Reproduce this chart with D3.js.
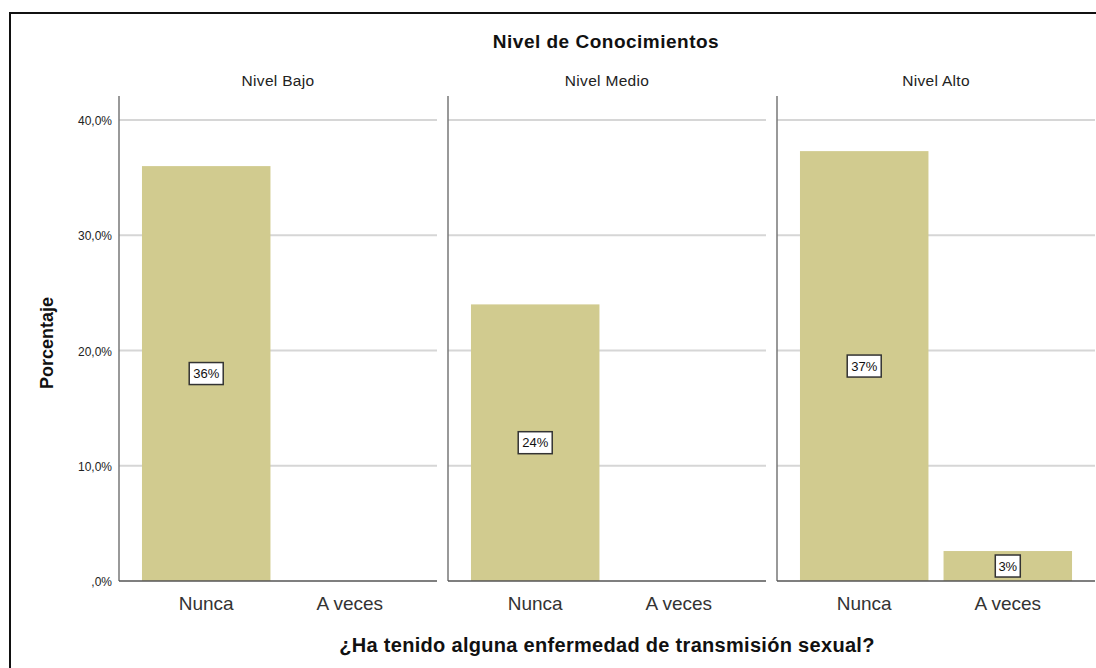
<!DOCTYPE html>
<html><head><meta charset="utf-8">
<script src="https://cdn.jsdelivr.net/npm/d3@7"></script>
<style>body{margin:0;background:#fff;}svg{display:block;font-family:"Liberation Sans",Arial,sans-serif;}</style>
</head><body>
<svg id="chart" width="1096" height="668"></svg>
<script>
const panels = ["Nivel Bajo", "Nivel Medio", "Nivel Alto"];
const categories = ["Nunca", "A veces"];
const values = [[36.0, 0], [24.0, 0], [37.3, 2.6]];
const labels = [["36%", null], ["24%", null], ["37%", "3%"]];
const yTicks = [0, 10, 20, 30, 40];
const tickLabels = [",0%", "10,0%", "20,0%", "30,0%", "40,0%"];

const svg = d3.select("#chart");
svg.append("rect").attr("x",10).attr("y",13).attr("width",1100).attr("height",700)
  .attr("fill","none").attr("stroke","#111").attr("stroke-width",2);

const y = d3.scaleLinear().domain([0, 40]).range([581, 120]);
const panelX = d3.scaleBand().domain(panels).range([119, 1095]).paddingInner(11/329).paddingOuter(0);
const pw = panelX.bandwidth();

svg.append("text").attr("x",606).attr("y",48).attr("text-anchor","middle")
  .attr("font-size",19).attr("letter-spacing",0.5).attr("font-weight","bold").attr("fill","#111").text("Nivel de Conocimientos");

yTicks.forEach((t,i)=>{
  svg.append("text").attr("x",112).attr("y",y(t)+5).attr("text-anchor","end")
    .attr("font-size",12).attr("fill","#222").text(tickLabels[i]);
});

svg.append("text").attr("transform","translate(53,343) rotate(-90)").attr("text-anchor","middle")
  .attr("font-size",18).attr("font-weight","bold").attr("fill","#111").text("Porcentaje");

panels.forEach((p,pi)=>{
  const x0 = panelX(p);
  const g = svg.append("g");
  g.append("text").attr("x",x0+pw/2).attr("y",86).attr("text-anchor","middle")
    .attr("font-size",15.5).attr("letter-spacing",0.3).attr("fill","#222").text(p);
  yTicks.filter(t=>t>0).forEach(t=>{
    g.append("line").attr("x1",x0).attr("x2",x0+pw).attr("y1",y(t)).attr("y2",y(t))
      .attr("stroke","#d6d6d6").attr("stroke-width",2);
  });
  const x = d3.scaleBand().domain(categories).range([x0, x0+pw]).paddingInner(0.105).paddingOuter(0.16);
  categories.forEach((c,ci)=>{
    const v = values[pi][ci];
    if (v > 0) {
      g.append("rect").attr("x",x(c)).attr("width",x.bandwidth()).attr("y",y(v)).attr("height",y(0)-y(v))
        .attr("fill","#d1cb8f");
    }
    g.append("text").attr("x",x(c)+x.bandwidth()/2).attr("y",610).attr("text-anchor","middle")
      .attr("font-size",19).attr("fill","#333").text(c);
  });
  g.append("line").attr("x1",x0).attr("x2",x0).attr("y1",96).attr("y2",581)
    .attr("stroke","#777").attr("stroke-width",1.5);
  g.append("line").attr("x1",x0).attr("x2",x0+pw).attr("y1",581).attr("y2",581)
    .attr("stroke","#555").attr("stroke-width",1.5);
  categories.forEach((c,ci)=>{
    const lab = labels[pi][ci];
    if (!lab) return;
    const v = values[pi][ci];
    const cx = x(c)+x.bandwidth()/2, cy = y(v/2);
    const w = lab.length === 3 ? 34 : 25;
    g.append("rect").attr("x",cx-w/2).attr("y",cy-11).attr("width",w).attr("height",22)
      .attr("fill","#fff").attr("stroke","#333").attr("stroke-width",1.5);
    g.append("text").attr("x",cx).attr("y",cy+4.5).attr("text-anchor","middle")
      .attr("font-size",13).attr("fill","#111").text(lab);
  });
});

svg.append("text").attr("x",607).attr("y",652).attr("text-anchor","middle")
  .attr("font-size",20).attr("letter-spacing",0.3).attr("font-weight","bold").attr("fill","#111")
  .text("¿Ha tenido alguna enfermedad de transmisión sexual?");
</script>
</body></html>
